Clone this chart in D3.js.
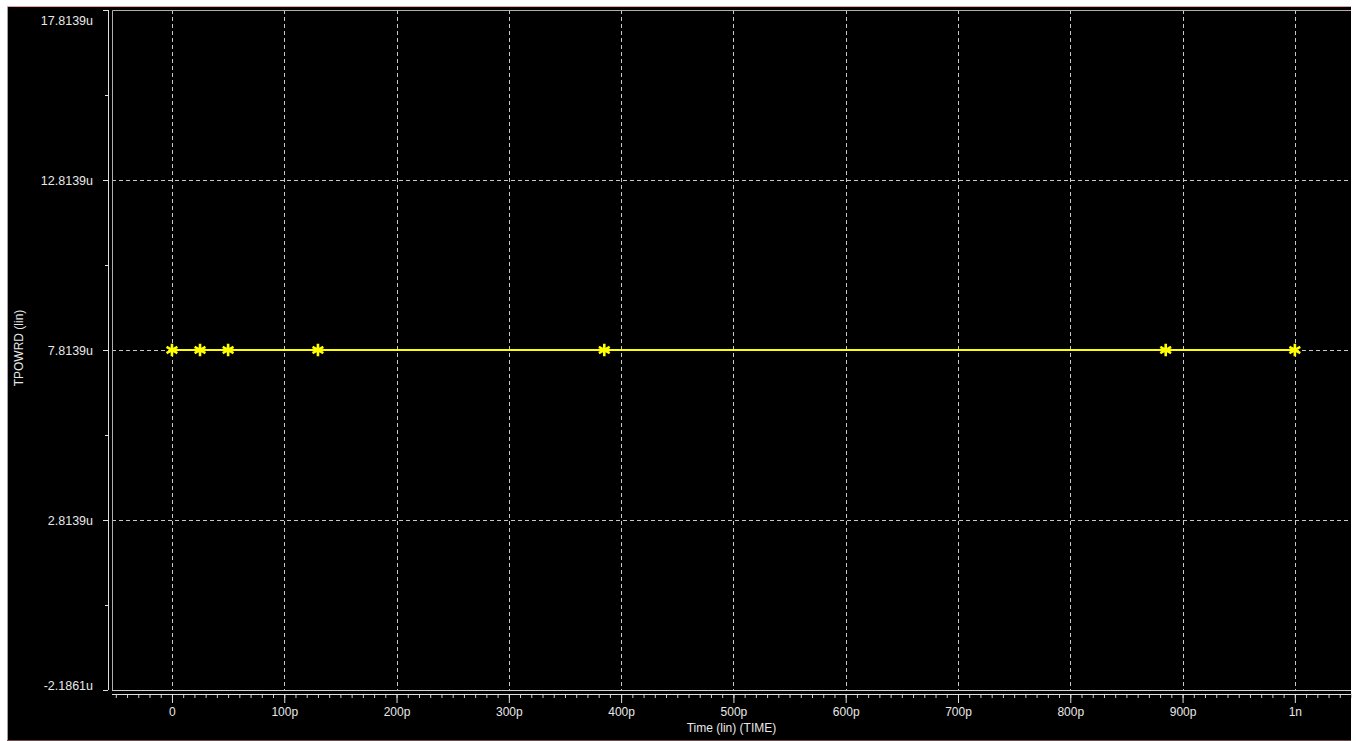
<!DOCTYPE html>
<html><head><meta charset="utf-8">
<script src="https://cdn.jsdelivr.net/npm/d3@7"></script>
<style>
html,body{margin:0;padding:0;background:#fff;}
svg{display:block;}
text{font-family:"Liberation Sans",Arial,sans-serif;}
</style></head>
<body><svg id="c" width="1356" height="741"></svg>
<script>
// ---- data ----
const timePs = [0, 25, 50, 130, 385, 885, 1000];
const tpowrdU = [7.8139, 7.8139, 7.8139, 7.8139, 7.8139, 7.8139, 7.8139];
const xTickValues = [0, 100, 200, 300, 400, 500, 600, 700, 800, 900, 1000];
const xTickLabels = ["0", "100p", "200p", "300p", "400p", "500p", "600p", "700p", "800p", "900p", "1n"];
const yTickValues = [-2.1861, 2.8139, 7.8139, 12.8139, 17.8139];
const yTickLabels = ["-2.1861u", "2.8139u", "7.8139u", "12.8139u", "17.8139u"];
const xTitle = "Time (lin) (TIME)";
const yTitle = "TPOWRD (lin)";

const svg = d3.select("#c");
const L = 112, R = 1351, T = 10, B = 690;

// background panel
svg.append("rect").attr("x", 7).attr("y", 6).attr("width", R - 7).attr("height", 741 - 6).attr("fill", "#000");
svg.append("line").attr("x1", 7).attr("x2", R).attr("y1", 6.5).attr("y2", 6.5).attr("stroke", "#e8a0a8").attr("stroke-width", 1);
svg.append("line").attr("x1", 7.5).attr("x2", 7.5).attr("y1", 7).attr("y2", 741).attr("stroke", "#a0a0a0").attr("stroke-width", 1);
svg.append("line").attr("x1", 7).attr("x2", R).attr("y1", 740.5).attr("y2", 740.5).attr("stroke", "#6a4a4a").attr("stroke-width", 1);

const x = d3.scaleLinear().domain([-53.4, 1050]).range([L, R]);
const y = d3.scaleLinear().domain([-2.1861, 17.8139]).range([B, T]);

const grid = svg.append("g").attr("stroke", "#c8c8c8").attr("stroke-width", 1).attr("stroke-dasharray", "4,3");
grid.selectAll("line.v").data(xTickValues).join("line")
  .attr("x1", d => Math.round(x(d)) + 0.5).attr("x2", d => Math.round(x(d)) + 0.5)
  .attr("y1", T).attr("y2", B);
grid.selectAll("line.h").data(yTickValues.slice(1, -1)).join("line")
  .attr("x1", L).attr("x2", R)
  .attr("y1", d => Math.round(y(d)) + 0.5).attr("y2", d => Math.round(y(d)) + 0.5);

// plot frame
svg.append("path").attr("d", `M${L + 0.5},${B}V${T + 0.5}H${R}`).attr("fill", "none").attr("stroke", "#b0b0b0");
svg.append("line").attr("x1", L).attr("x2", R).attr("y1", B + 0.5).attr("y2", B + 0.5).attr("stroke", "#d0d0d0");

// x axis
const xa = svg.append("g").attr("transform", `translate(0,${B + 4})`);
const minorX = d3.range(-50, 1051, 10);
xa.append("g").call(d3.axisBottom(x).tickValues(minorX).tickSize(4).tickFormat(""))
  .call(g => g.select(".domain").remove())
  .selectAll("line").attr("stroke", "#d0d0d0");
xa.append("g").call(d3.axisBottom(x).tickValues(xTickValues).tickSize(9).tickPadding(7)
    .tickFormat((d, i) => xTickLabels[i]))
  .call(g => g.select(".domain").remove())
  .call(g => g.selectAll("line").attr("stroke", "#e0e0e0"))
  .call(g => g.selectAll("text").attr("fill", "#e8e8e8").attr("font-size", 12).attr("dy", "0.5em")
     .attr("font-family", "Liberation Sans, Arial, sans-serif"));
xa.append("line").attr("x1", L).attr("x2", R).attr("y1", 0.5).attr("y2", 0.5).attr("stroke", "#e0e0e0");
svg.append("text").attr("x", (L + R) / 2).attr("y", 732).attr("text-anchor", "middle")
  .attr("fill", "#e8e8e8").attr("font-size", 12).text(xTitle);

// y axis
const ya = svg.append("g").attr("transform", "translate(108,0)");
const minorY = [-2.1861 + 2.5, 2.8139 + 2.5, 7.8139 + 2.5, 12.8139 + 2.5];
ya.append("g").call(d3.axisLeft(y).tickValues(minorY).tickSize(3).tickFormat(""))
  .call(g => g.select(".domain").remove())
  .selectAll("line").attr("stroke", "#e0e0e0");
ya.append("g").call(d3.axisLeft(y).tickValues(yTickValues).tickSize(5).tickPadding(10)
    .tickFormat((d, i) => yTickLabels[i]))
  .call(g => g.select(".domain").remove())
  .call(g => g.selectAll("line").attr("stroke", "#e0e0e0"))
  .call(g => g.selectAll("text").attr("fill", "#e8e8e8").attr("font-size", 12.5)
     .attr("font-family", "Liberation Sans, Arial, sans-serif")
     .attr("y", d => Math.min(Math.max(y(d), 20), 685) - y(d)));
ya.append("line").attr("x1", 0.5).attr("x2", 0.5).attr("y1", T).attr("y2", B).attr("stroke", "#e0e0e0");
svg.append("text").attr("transform", `translate(23,${(T + B) / 2 - 2}) rotate(-90)`).attr("text-anchor", "middle")
  .attr("fill", "#e8e8e8").attr("font-size", 12).text(yTitle);

// series
const pts = timePs.map((t, i) => [t, tpowrdU[i]]);
svg.append("path").datum(pts)
  .attr("d", d3.line().x(d => x(d[0])).y(d => y(d[1])))
  .attr("fill", "none").attr("stroke", "#ffff00").attr("stroke-width", 2);
const sym = d3.symbol().type(d3.symbolAsterisk).size(110);
svg.append("g").selectAll("path").data(pts).join("path")
  .attr("transform", d => `translate(${x(d[0])},${y(d[1])})`)
  .attr("d", sym).attr("fill", "none").attr("stroke", "#ffff00").attr("stroke-width", 2.6);
</script></body></html>
